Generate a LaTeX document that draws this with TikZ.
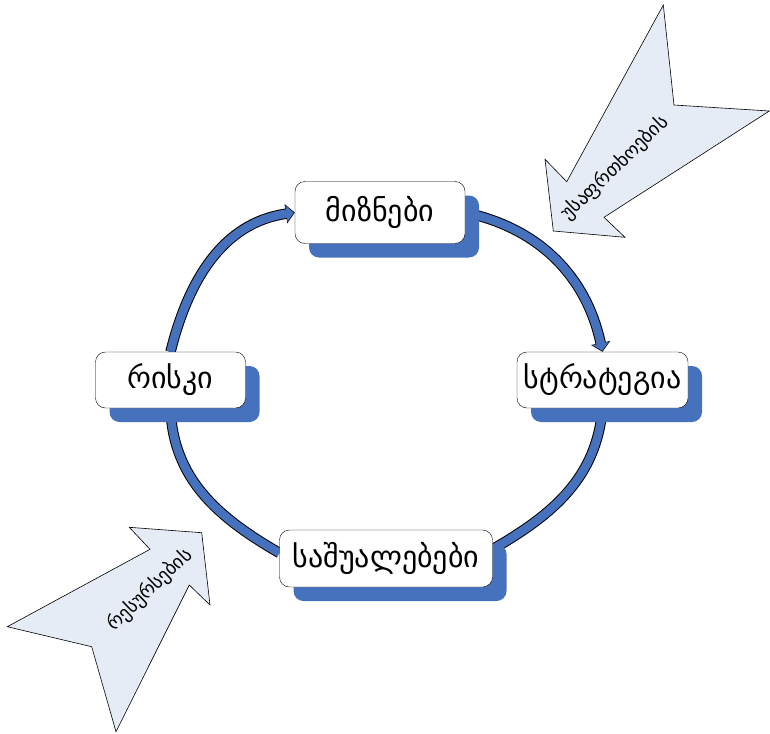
\documentclass[tikz,border=0pt]{standalone}
\usepackage{fontspec}
\usepackage{xcolor}
\usepackage{tikz}
\usetikzlibrary{arrows.meta, shadows}
\newfontfamily\geofont{DejaVu Sans}
\definecolor{ringblue}{RGB}{70,114,189}
\definecolor{arrowfill}{RGB}{230,236,245}
\pgfdeclarelayer{bg}
\pgfsetlayers{bg,main}

\begin{document}
\begin{tikzpicture}[x=1pt, y=1pt,
		box/.style={draw=black, fill=white, rounded corners=10pt, inner sep=0pt,
			font=\geofont\fontsize{30}{34}\selectfont,
			drop shadow={shadow xshift=14pt, shadow yshift=-14pt, fill=ringblue, opacity=1}},
		bigarrow/.style={draw=black, fill=arrowfill, line width=0.6pt},
		arrowtext/.style={font=\geofont\fontsize{19}{22}\selectfont, rotate=44},
		ringout/.style={line width=10.5pt, black},
		ringin/.style={line width=8.5pt, ringblue}]
			\useasboundingbox (0,0) rectangle (770,-733);

			\draw[bigarrow] (553.3,-231) -- (545,-159.3) -- (566.7,-181.7) -- (663.3,-5) -- (674,-105) -- (769.3,-111) -- (604,-217.3) -- (625,-237.3) -- cycle;
			\draw[bigarrow] (201.7,-532.7) -- (129.3,-527.3) -- (150,-549.3) -- (7.3,-626.7) -- (91.7,-646.7) -- (116,-731.7) -- (189.3,-585) -- (210,-605) -- cycle;
			\node[arrowtext] (safety) at (615,-168) {უსაფრთხოების};
			\node[arrowtext] (resources) at (150,-590) {რესურსების};

			\node[box, minimum width=170pt, minimum height=62pt] (goals) at (380,-212.5) {მიზნები};
			\node[box, minimum width=171pt, minimum height=56pt] (strategy) at (602.5,-380) {სტრატეგია};
			\node[box, minimum width=150pt, minimum height=56pt] (risk) at (170.5,-380) {რისკი};
			\node[box, minimum width=213pt, minimum height=57pt] (means) at (386,-558.5) {საშუალებები};

			\begin{pgfonlayer}{bg}
				\draw[ringout, -{Triangle[length=9pt 0, width=19pt 0]}] (risk.north) to[out=76, in=188] (goals.west);
				\draw[ringin, shorten >=1pt, -{Triangle[length=7.5pt 0, width=16pt 0]}] (risk.north) to[out=76, in=188] (goals.west);
				\draw[ringout, -{Triangle[length=9pt 0, width=19pt 0]}] (goals.east) to[out=-12, in=102] (strategy.north);
				\draw[ringin, shorten >=1pt, -{Triangle[length=7.5pt 0, width=16pt 0]}] (goals.east) to[out=-12, in=102] (strategy.north);
				\draw[ringout] (strategy.south) to[out=-95, in=30] (means.5);
				\draw[ringin] (strategy.south) to[out=-95, in=30] (means.5);
				\draw[ringout] (risk.south) to[out=-88, in=150] (means.177);
				\draw[ringin] (risk.south) to[out=-88, in=150] (means.177);
			\end{pgfonlayer}

		\end{tikzpicture}
\end{document}
